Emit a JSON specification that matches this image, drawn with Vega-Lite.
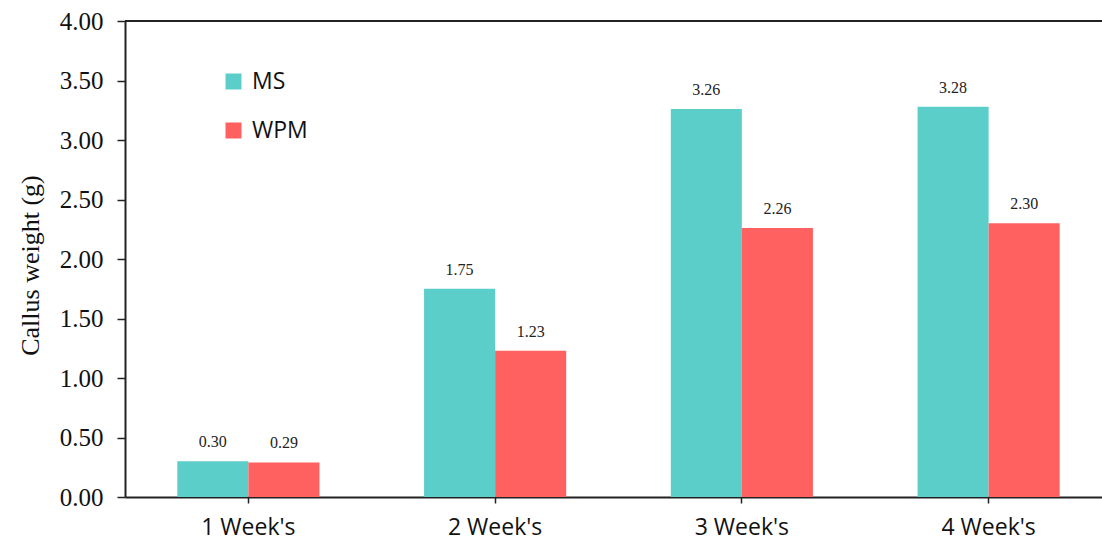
{
  "$schema": "https://vega.github.io/schema/vega-lite/v6.json",
  "width": 987,
  "height": 476,
  "autosize": {"type": "none"},
  "padding": {"left": 125, "top": 21, "right": 0, "bottom": 48},
  "background": "white",
  "config": {"view": {"stroke": null}},
  "data": {
    "values": [
      {"week": "1 Week's", "medium": "MS", "weight": 0.30},
      {"week": "1 Week's", "medium": "WPM", "weight": 0.29},
      {"week": "2 Week's", "medium": "MS", "weight": 1.75},
      {"week": "2 Week's", "medium": "WPM", "weight": 1.23},
      {"week": "3 Week's", "medium": "MS", "weight": 3.26},
      {"week": "3 Week's", "medium": "WPM", "weight": 2.26},
      {"week": "4 Week's", "medium": "MS", "weight": 3.28},
      {"week": "4 Week's", "medium": "WPM", "weight": 2.30}
    ]
  },
  "encoding": {
    "x": {
      "field": "week", "type": "nominal", "sort": null,
      "scale": {"paddingInner": 0.424, "paddingOuter": 0.212},
      "axis": {
        "title": null, "labelAngle": 0, "labelFont": "Open Sans", "labelFontSize": 23,
        "labelColor": "#111", "domainColor": "#222", "domainWidth": 2, "tickColor": "#222",
        "tickSize": 6, "tickWidth": 1.5, "labelPadding": 13
      }
    },
    "xOffset": {"field": "medium", "type": "nominal", "sort": ["MS", "WPM"]}
  },
  "layer": [
    {
      "mark": {"type": "bar"},
      "encoding": {
        "y": {
          "field": "weight", "type": "quantitative",
          "scale": {"domain": [0, 4], "nice": false},
          "axis": {
            "title": "Callus weight (g)", "titleFont": "Liberation Serif", "titleFontSize": 26,
            "titleFontWeight": "normal", "titleColor": "#111", "titlePadding": 16, "titleY": 244,
            "values": [0, 0.5, 1, 1.5, 2, 2.5, 3, 3.5, 4], "format": ".2f",
            "labelFont": "Liberation Serif", "labelFontSize": 25, "labelColor": "#111",
            "labelPadding": 14, "tickSize": 8, "tickWidth": 1.5, "tickColor": "#222",
            "domainColor": "#222", "domainWidth": 2, "grid": false
          }
        },
        "color": {
          "field": "medium", "type": "nominal",
          "scale": {"domain": ["MS", "WPM"], "range": ["#5ccec9", "#ff6161"]},
          "legend": {
            "title": null, "orient": "none", "legendX": 97, "legendY": 49,
            "symbolType": "square", "symbolSize": 256, "symbolOpacity": 1,
            "symbolStrokeWidth": 0, "labelFont": "Open Sans", "labelFontSize": 23,
            "labelColor": "#111", "labelOffset": 7, "rowPadding": 25
          }
        }
      }
    },
    {
      "mark": {"type": "text", "font": "Liberation Serif", "fontSize": 16, "color": "#222", "baseline": "alphabetic", "dy": -14},
      "encoding": {
        "y": {"field": "weight", "type": "quantitative"},
        "text": {"field": "weight", "type": "quantitative", "format": ".2f"}
      }
    },
    {
      "mark": {"type": "rule", "color": "#222", "strokeWidth": 2},
      "encoding": {"y": {"datum": 4}, "x": {"value": 0}, "x2": {"value": 987}, "xOffset": null}
    }
  ]
}
